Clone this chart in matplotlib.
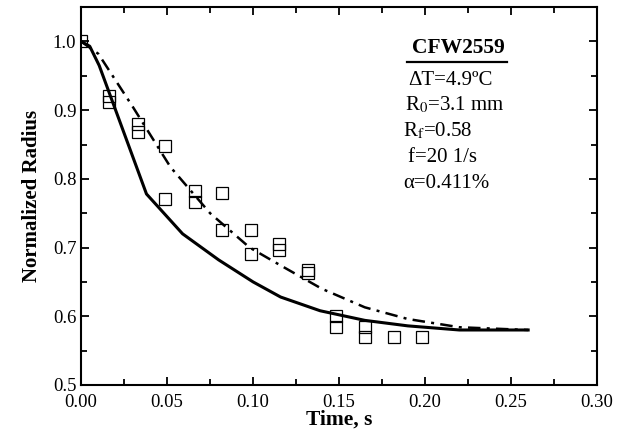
import matplotlib.pyplot as plt
from matplotlib.ticker import MultipleLocator

plt.rcParams['font.family'] = ['Liberation Serif', 'DejaVu Serif']
plt.rcParams['mathtext.fontset'] = 'stix'

# measured points (squares)
t_data = [0.0, 0.016, 0.016, 0.033, 0.033, 0.049, 0.049, 0.066, 0.066,
          0.082, 0.082, 0.099, 0.099, 0.115, 0.115, 0.132, 0.132,
          0.148, 0.148, 0.165, 0.165, 0.182, 0.198]
r_data = [1.0, 0.920, 0.912, 0.880, 0.868, 0.848, 0.770, 0.782, 0.767,
          0.780, 0.725, 0.725, 0.690, 0.705, 0.697, 0.667, 0.663,
          0.600, 0.585, 0.584, 0.570, 0.570, 0.570]

# model, solid
t_solid = [0.0, 0.005, 0.0105, 0.038, 0.059, 0.08, 0.1, 0.116, 0.139,
           0.165, 0.19, 0.22, 0.26]
r_solid = [1.0, 0.993, 0.965, 0.778, 0.720, 0.682, 0.650, 0.628, 0.608,
           0.594, 0.586, 0.580, 0.580]

# model, dash-dot
t_dash = [0.0, 0.01, 0.03, 0.052, 0.075, 0.098, 0.116, 0.14, 0.165,
          0.19, 0.22, 0.26]
r_dash = [1.0, 0.982, 0.905, 0.817, 0.750, 0.700, 0.674, 0.640, 0.613,
          0.596, 0.584, 0.580]

fig, ax = plt.subplots(figsize=(6.29, 4.44), dpi=100)
fig.subplots_adjust(left=0.129, right=0.949, top=0.984, bottom=0.133)

ax.plot(t_solid, r_solid, color='black', lw=2.2)
ax.plot(t_dash, r_dash, color='black', lw=1.8, dashes=(5, 2.5, 1.2, 2.5))
ax.plot(t_data, r_data, ls='none', marker='s', ms=8, mfc='none',
        mec='black', mew=0.9)

ax.set_xlim(0, 0.30)
ax.set_ylim(0.5, 1.05)
ax.xaxis.set_major_locator(MultipleLocator(0.05))
ax.xaxis.set_minor_locator(MultipleLocator(0.025))
ax.yaxis.set_major_locator(MultipleLocator(0.1))
ax.yaxis.set_minor_locator(MultipleLocator(0.05))
ax.xaxis.set_major_formatter(plt.FormatStrFormatter('%.2f'))
ax.yaxis.set_major_formatter(plt.FormatStrFormatter('%.1f'))
ax.tick_params(which='both', direction='in', top=True, right=True,
               labelsize=13.5, width=1.3)
ax.tick_params(which='major', length=6)
ax.tick_params(which='minor', length=4)
ax.tick_params(axis='x', pad=6.5)
for s in ax.spines.values():
    s.set_linewidth(1.5)

ax.set_xlabel('Time, s', fontsize=15.5, fontweight='bold', labelpad=-1)
ax.set_ylabel('Normalized Radius', fontsize=15, fontweight='bold', labelpad=8)

# annotation block
ax.text(0.731, 0.892, 'CFW2559', transform=ax.transAxes, ha='center',
        va='center', fontsize=15.5, fontweight='bold')
ax.plot([0.632, 0.826], [0.854, 0.854], transform=ax.transAxes,
        color='black', lw=1.6)
lines = ['\u0394T=4.9\u00baC', 'R$_0$=3.1 mm', 'R$_\\mathrm{f}$=0.58',
         'f=20 1/s', '\u03b1=0.411%']
ys = [0.807, 0.740, 0.672, 0.603, 0.534]
xs = [0.634, 0.628, 0.624, 0.634, 0.624]
for x, y, s in zip(xs, ys, lines):
    ax.text(x, y, s, transform=ax.transAxes, ha='left', va='center',
            fontsize=15)

plt.savefig('out.png', dpi=100)
